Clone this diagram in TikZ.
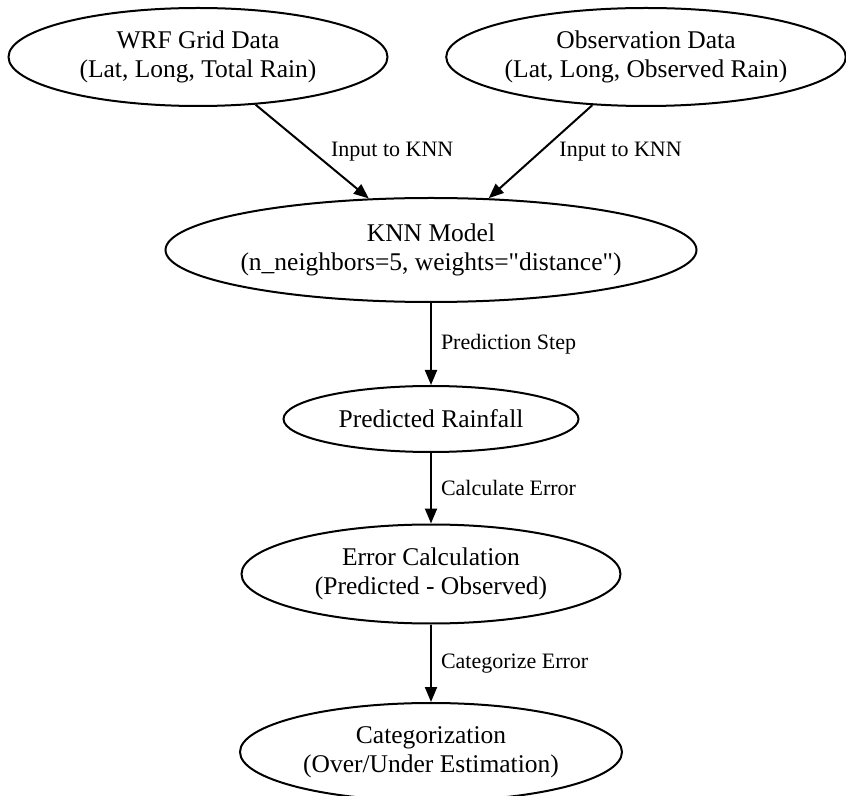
\documentclass[tikz,border=0pt]{standalone}
\usepackage{fontspec}
\setmainfont{Liberation Serif}
\usetikzlibrary{shapes.geometric,arrows.meta,positioning}

\tikzset{
    stage/.style={draw, ellipse, line width=1pt, inner sep=0pt, align=center,
        font=\fontsize{12.75}{14.5}\selectfont},
    link/.style={-{Triangle[length=7.5pt,width=6pt]}, line width=1pt},
    linklabel/.style={font=\fontsize{11}{13}\selectfont, inner sep=0pt}
}

\begin{document}
\begin{tikzpicture}[x=0.5pt, y=-0.5pt]
    \useasboundingbox (0,0) rectangle (846,796);

    % data sources
    \node[stage, minimum width=189.5pt, minimum height=49pt] (wrf) at (198,57)
        {WRF Grid Data\\(Lat, Long, Total Rain)};
    \node[stage, minimum width=199pt, minimum height=49pt] (obs) at (646,57)
        {Observation Data\\(Lat, Long, Observed Rain)};

    % model and results
    \node[stage, inner xsep=-4pt, minimum width=265.5pt, minimum height=52pt] (knn) at (431,250)
        {KNN Model\\(n\_neighbors=5, weights=\textquotedbl distance\textquotedbl)};
    \node[stage, minimum width=147.5pt, minimum height=33pt] (pred) at (431,419)
        {Predicted Rainfall};
    \node[stage, minimum width=189.5pt, minimum height=49.5pt] (err) at (431,574)
        {Error Calculation\\(Predicted - Observed)};
    \node[stage, minimum width=191pt, minimum height=49pt] (cat) at (431,752)
        {Categorization\\(Over/Under Estimation)};

    \draw[link] (wrf) -- node[linklabel, right=9pt] {Input to KNN} (knn);
    \draw[link] (obs) -- node[linklabel, right=9pt] {Input to KNN} (knn);
    \draw[link] (knn) -- node[linklabel, right=4.5pt] {Prediction Step} (pred);
    \draw[link] (pred) -- node[linklabel, right=4.5pt] {Calculate Error} (err);
    \draw[link] (err) -- node[linklabel, right=4.5pt] {Categorize Error} (cat);
\end{tikzpicture}
\end{document}
